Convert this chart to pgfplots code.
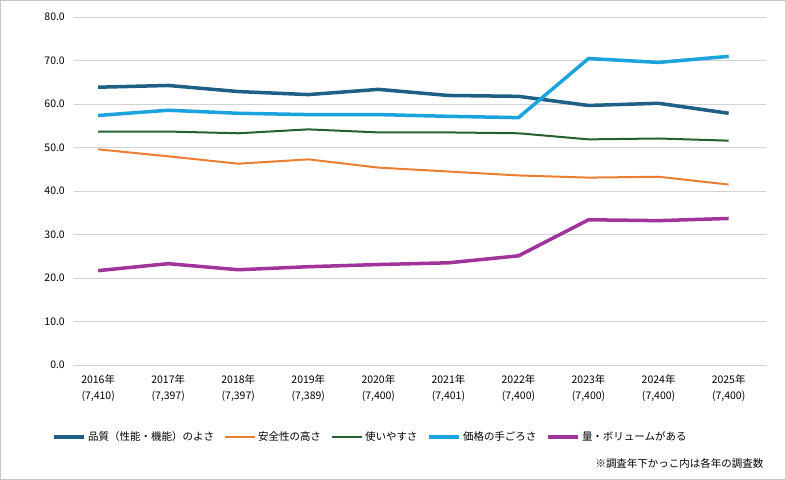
\documentclass[border=0pt]{standalone}
\usepackage{pgfplots}
\pgfplotsset{compat=1.18}
\usepackage{fontspec}
\setmainfont{Noto Sans CJK JP}
\definecolor{c1}{HTML}{1F5F85}
\definecolor{c2}{HTML}{ED7D31}
\definecolor{c3}{HTML}{236131}
\definecolor{c4}{HTML}{1AA3DD}
\definecolor{c5}{HTML}{A0349A}
\begin{document}
\begin{tikzpicture}[x=1bp,y=1bp]
\draw[gray!45] (1,1) rectangle (784,479);
\begin{axis}[at={(75bp,115bp)}, anchor=south west, scale only axis,
 width=690bp, height=347bp,
 xmin=-0.34, xmax=9.53, ymin=0, ymax=80,
 ytick={0,10,...,80}, xtick={0,...,9},
 xticklabels={{2016年\\[4pt](7,410)},{2017年\\[4pt](7,397)},{2018年\\[4pt](7,397)},{2019年\\[4pt](7,389)},{2020年\\[4pt](7,400)},{2021年\\[4pt](7,401)},{2022年\\[4pt](7,400)},{2023年\\[4pt](7,400)},{2024年\\[4pt](7,400)},{2025年\\[4pt](7,400)}},
 xticklabel style={align=center, font=\fontsize{10.5}{12}\selectfont, yshift=-6bp},
 yticklabel style={font=\fontsize{10.5}{12}\selectfont, xshift=-6bp},
 /pgf/number format/.cd, fixed, fixed zerofill, precision=1, assume math mode=true, /pgfplots/.cd,
 ymajorgrids, grid style={gray!35, line width=0.6pt},
 axis line style={draw=none}, major tick length=0,
 legend columns=5,
 legend image code/.code={\draw[#1] (0bp,0bp) -- (30bp,0bp);},
 legend style={at={(-0.036,-0.207)}, anchor=west, draw=none, fill=none, font=\fontsize{10.5}{12}\selectfont, /tikz/every even column/.append style={column sep=8bp}},
 legend cell align=left,
]
\addplot[c1, line width=3.5bp] coordinates {(0,63.9)(1,64.3)(2,62.9)(3,62.2)(4,63.4)(5,62.0)(6,61.8)(7,59.7)(8,60.2)(9,57.9)};
\addlegendentry{品質（性能・機能）のよさ}
\addplot[c2, line width=2bp] coordinates {(0,49.6)(1,48.0)(2,46.3)(3,47.3)(4,45.4)(5,44.5)(6,43.6)(7,43.1)(8,43.3)(9,41.5)};
\addlegendentry{安全性の高さ}
\addplot[c3, line width=2bp] coordinates {(0,53.7)(1,53.7)(2,53.3)(3,54.2)(4,53.5)(5,53.5)(6,53.3)(7,51.9)(8,52.1)(9,51.6)};
\addlegendentry{使いやすさ}
\addplot[c4, line width=3.5bp] coordinates {(0,57.4)(1,58.6)(2,57.9)(3,57.6)(4,57.6)(5,57.2)(6,56.9)(7,70.5)(8,69.6)(9,71.0)};
\addlegendentry{価格の手ごろさ}
\addplot[c5, line width=3.5bp] coordinates {(0,21.7)(1,23.3)(2,21.9)(3,22.6)(4,23.1)(5,23.5)(6,25.1)(7,33.4)(8,33.2)(9,33.7)};
\addlegendentry{量・ボリュームがある}
\end{axis}
\node[anchor=east, font=\fontsize{10.5}{12}\selectfont] at (766,17) {※調査年下かっこ内は各年の調査数};
\end{tikzpicture}
\end{document}
